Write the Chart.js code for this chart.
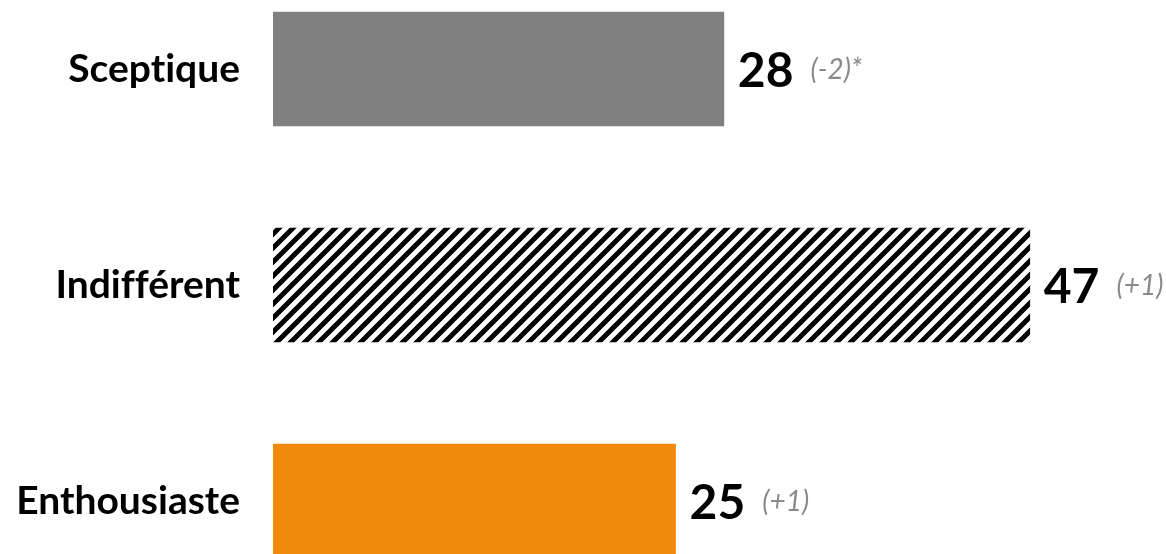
<!DOCTYPE html>
<html>
<head>
<meta charset="utf-8">
<script src="https://cdn.jsdelivr.net/npm/chart.js@4.4.1/dist/chart.umd.min.js"></script>
<style>
    html, body { margin: 0; padding: 0; background: #fff; overflow: hidden; }
    #wrap { position: absolute; left: 0; top: -39px; width: 1166px; height: 648px; }
</style>
</head>
<body>
<div id="wrap"><canvas id="grafico" width="1166" height="648"></canvas></div>
<script>
const categorias = ['Sceptique', 'Indifférent', 'Enthousiaste'];
const valeurs = [28, 47, 25];
const evolutions = ['(-2)*', '(+1)', '(+1)'];

function motifHachure() {
    const taille = 14;
    const c = document.createElement('canvas');
    c.width = taille;
    c.height = taille;
    const ctx = c.getContext('2d');
    ctx.fillStyle = '#fff';
    ctx.fillRect(0, 0, taille, taille);
    ctx.strokeStyle = '#000';
    ctx.lineWidth = 5;
    ctx.beginPath();
    ctx.moveTo(-taille / 2, taille / 2); ctx.lineTo(taille / 2, -taille / 2);
    ctx.moveTo(0, taille); ctx.lineTo(taille, 0);
    ctx.moveTo(taille / 2, taille * 1.5); ctx.lineTo(taille * 1.5, taille / 2);
    ctx.stroke();
    return c.getContext('2d').createPattern(c, 'repeat');
}

// pas de ligatures (ti, ff) dans les libelles
const sansLigatures = {
    id: 'sansLigatures',
    beforeDraw(chart) {
        chart.ctx.textRendering = 'optimizeSpeed';
    }
};

// etiquettes de valeur a droite des barres
const etiquettes = {
    id: 'etiquettes',
    afterDatasetsDraw(chart) {
        const ctx = chart.ctx;
        const meta = chart.getDatasetMeta(0);
        ctx.save();
        ctx.textBaseline = 'middle';
        ctx.textAlign = 'left';
        meta.data.forEach((barre, i) => {
            const x = barre.x + 14;
            ctx.font = 'bold 48px Lato';
            ctx.fillStyle = '#000';
            const texte = String(valeurs[i]);
            ctx.fillText(texte, x, barre.y + 3);
            const w = ctx.measureText(texte).width;
            ctx.font = 'italic 28px Lato';
            ctx.fillStyle = '#8a8a8a';
            ctx.fillText(evolutions[i], x + w + 17, barre.y + 1);
        });
        ctx.restore();
    }
};

const ctx = document.getElementById('grafico').getContext('2d');
new Chart(ctx, {
    type: 'bar',
    data: {
        labels: categorias,
        datasets: [{
            data: valeurs,
            backgroundColor: ['#808080', motifHachure(), '#f18a0a'],
            barThickness: 114
        }]
    },
    options: {
        indexAxis: 'y',
        responsive: false,
        animation: false,
        devicePixelRatio: 1,
        layout: { padding: 0 },
        plugins: { legend: { display: false }, tooltip: { enabled: false } },
        scales: {
            x: { display: false, min: 0, max: 55.46 },
            y: {
                grid: { display: false, drawTicks: false },
                border: { display: false },
                ticks: {
                    color: '#000',
                    padding: 33,
                    font: { family: 'Lato', weight: 'bold', size: 39 }
                },
                afterFit(scale) {
                    scale.width = 273;
                    scale.paddingTop = 0;
                    scale.paddingBottom = 0;
                }
            }
        }
    },
    plugins: [sansLigatures, etiquettes]
});
</script>
</body>
</html>
